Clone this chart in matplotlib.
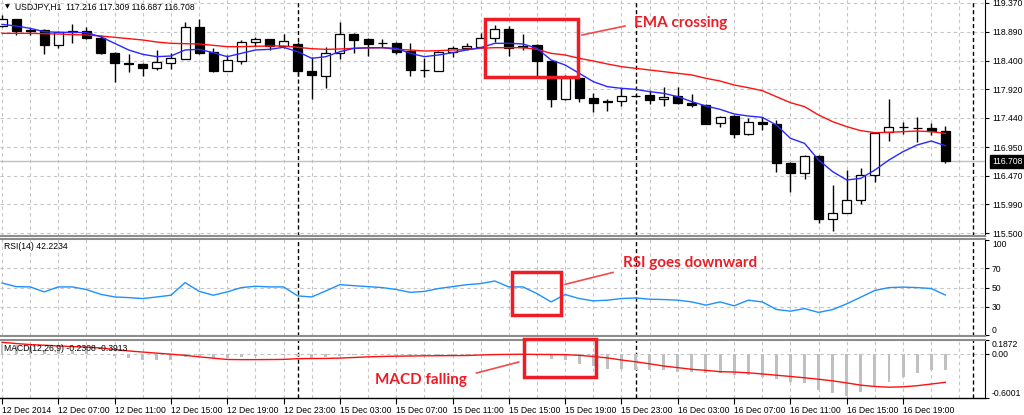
import matplotlib
matplotlib.use("Agg")
import matplotlib.pyplot as plt
from matplotlib.patches import Rectangle
import numpy as np

# USDJPY H1, 12 Dec 2014 03:00 .. 16 Dec 2014 22:00 (68 bars)
opens = [118.983, 119.095, 118.910, 118.916, 118.664, 118.885, 118.899, 118.787, 118.535, 118.367,
         118.339, 118.272, 118.367, 118.429, 118.972, 118.552, 118.227, 118.401, 118.709, 118.765,
         118.653, 118.681, 118.233, 118.149, 118.524, 118.849, 118.759, 118.692, 118.703, 118.563,
         118.250, 118.233, 118.541, 118.619, 118.636, 118.776, 118.933, 118.625, 118.664, 118.395,
         117.751, 118.104, 117.779, 117.700, 117.723, 117.810, 117.824, 117.751, 117.813, 117.684,
         117.656, 117.359, 117.477, 117.163, 117.376, 117.337, 116.687, 116.508, 116.799, 115.735,
         115.847, 116.060, 116.480, 117.197, 117.280, 117.270, 117.275, 117.216]
highs = [119.168, 119.100, 118.955, 118.930, 118.899, 119.017, 118.972, 118.832, 118.552, 118.513,
         118.356, 118.580, 118.535, 119.056, 119.095, 118.608, 118.496, 118.748, 118.804, 118.770,
         118.849, 118.720, 118.457, 118.636, 119.056, 118.860, 118.776, 118.765, 118.710, 118.703,
         118.440, 118.569, 118.653, 118.692, 118.860, 119.000, 118.983, 118.849, 118.675, 118.400,
         118.160, 118.110, 117.863, 117.757, 117.936, 117.840, 117.908, 117.953, 117.953, 117.835,
         117.673, 117.465, 117.480, 117.443, 117.449, 117.404, 116.704, 116.816, 116.810, 116.312,
         116.564, 116.592, 117.208, 117.751, 117.365, 117.460, 117.359, 117.309]
lows = [118.972, 118.832, 118.832, 118.513, 118.608, 118.703, 118.759, 118.513, 118.048, 118.205,
        118.149, 118.244, 118.261, 118.425, 118.513, 118.205, 118.222, 118.339, 118.653, 118.580,
        118.608, 118.143, 117.757, 117.947, 118.429, 118.524, 118.485, 118.636, 118.507, 118.143,
        118.132, 118.228, 118.457, 118.580, 118.630, 118.720, 118.479, 118.580, 118.149, 117.617,
        117.745, 117.712, 117.544, 117.561, 117.639, 117.800, 117.673, 117.645, 117.673, 117.628,
        117.330, 117.281, 117.107, 117.152, 117.236, 116.536, 116.200, 116.413, 115.679, 115.545,
        115.840, 115.993, 116.368, 117.051, 117.169, 117.040, 117.152, 116.687]
closes = [119.095, 118.899, 118.894, 118.664, 118.888, 118.892, 118.787, 118.524, 118.367, 118.345,
          118.272, 118.373, 118.440, 118.972, 118.535, 118.227, 118.412, 118.709, 118.765, 118.653,
          118.737, 118.227, 118.160, 118.535, 118.849, 118.748, 118.675, 118.700, 118.552, 118.244,
          118.240, 118.541, 118.608, 118.653, 118.776, 118.927, 118.619, 118.645, 118.395, 117.751,
          118.104, 117.779, 117.684, 117.715, 117.807, 117.815, 117.740, 117.796, 117.684, 117.656,
          117.337, 117.460, 117.163, 117.376, 117.331, 116.676, 116.508, 116.799, 115.735, 115.847,
          116.060, 116.480, 117.191, 117.281, 117.290, 117.275, 117.225, 116.708]

ema_fast = [119.011, 118.983, 118.944, 118.888, 118.877, 118.877, 118.871, 118.804, 118.692, 118.580,
            118.507, 118.468, 118.479, 118.580, 118.591, 118.535, 118.468, 118.524, 118.580, 118.591,
            118.625, 118.552, 118.440, 118.468, 118.552, 118.608, 118.619, 118.619, 118.608, 118.524,
            118.468, 118.496, 118.535, 118.580, 118.619, 118.692, 118.692, 118.681, 118.608, 118.412,
            118.328, 118.188, 118.048, 117.964, 117.936, 117.919, 117.880, 117.852, 117.796, 117.712,
            117.639, 117.583, 117.505, 117.471, 117.449, 117.320, 117.096, 117.012, 116.732, 116.536,
            116.396, 116.424, 116.564, 116.732, 116.872, 116.984, 117.051, 116.973]
ema_slow = [118.860, 118.860, 118.860, 118.854, 118.849, 118.838, 118.832, 118.815, 118.793, 118.770,
            118.748, 118.714, 118.692, 118.686, 118.681, 118.658, 118.636, 118.636, 118.642, 118.647,
            118.647, 118.625, 118.602, 118.591, 118.597, 118.608, 118.614, 118.619, 118.591, 118.580,
            118.563, 118.569, 118.580, 118.591, 118.608, 118.619, 118.619, 118.619, 118.591, 118.524,
            118.496, 118.440, 118.395, 118.345, 118.300, 118.272, 118.244, 118.216, 118.188, 118.160,
            118.104, 118.059, 117.992, 117.947, 117.897, 117.796, 117.695, 117.628, 117.488, 117.376,
            117.292, 117.225, 117.191, 117.197, 117.208, 117.219, 117.208, 117.180]

rsi = [54.8, 51.0, 50.7, 45.5, 50.7, 50.7, 47.9, 43.0, 40.2, 39.5,
       38.5, 40.2, 42.0, 55.2, 46.1, 42.0, 45.5, 50.0, 51.4, 50.7,
       50.7, 41.3, 40.2, 46.5, 53.1, 52.0, 51.0, 50.0, 48.0, 45.0,
       46.0, 49.0, 51.0, 53.0, 54.2, 56.9, 50.7, 50.7, 43.7, 35.0,
       42.7, 38.5, 36.1, 36.8, 38.5, 39.2, 37.8, 37.5, 36.8, 35.0,
       31.6, 35.0, 30.9, 36.8, 35.0, 27.1, 25.3, 28.0, 24.0, 27.0,
       33.0, 40.0, 47.0, 50.0, 50.5, 50.0, 49.0, 42.2]

macd_main = [0.13, 0.11, 0.09, 0.05, 0.04, 0.035, 0.03, 0.0, -0.04, -0.065,
             -0.085, -0.09, -0.085, -0.05, -0.035, -0.055, -0.06, -0.045, -0.03, -0.025,
             -0.02, -0.035, -0.06, -0.05, -0.03, -0.02, -0.015, -0.01, -0.015, -0.03,
             -0.035, -0.03, -0.02, -0.015, -0.01, 0.0, -0.005, -0.01, -0.03, -0.072,
             -0.094, -0.139, -0.170, -0.206, -0.215, -0.222, -0.229, -0.229, -0.247, -0.247,
             -0.260, -0.260, -0.292, -0.292, -0.314, -0.341, -0.386, -0.395, -0.494, -0.543,
             -0.580, -0.529, -0.449, -0.382, -0.314, -0.260, -0.229, -0.2308]
macd_signal = [0.153, 0.136, 0.122, 0.113, 0.103, 0.095, 0.086, 0.076, 0.055, 0.035,
               0.020, 0.005, -0.009, -0.025, -0.045, -0.063, -0.081, -0.083, -0.083, -0.082,
               -0.080, -0.070, -0.068, -0.067, -0.062, -0.054, -0.045, -0.040, -0.036, -0.034,
               -0.031, -0.030, -0.028, -0.027, -0.020, -0.014, -0.012, -0.010, -0.012, -0.013,
               -0.015, -0.025, -0.040, -0.060, -0.088, -0.112, -0.140, -0.170, -0.192, -0.215,
               -0.229, -0.247, -0.252, -0.262, -0.278, -0.295, -0.312, -0.330, -0.350, -0.372,
               -0.400, -0.430, -0.449, -0.458, -0.453, -0.438, -0.415, -0.3913]

price_ticks = [119.370, 118.890, 118.400, 117.920, 117.440, 116.950, 116.470, 115.990, 115.500]
time_labels = ["12 Dec 2014", "12 Dec 07:00", "12 Dec 11:00", "12 Dec 15:00", "12 Dec 19:00",
               "12 Dec 23:00", "15 Dec 03:00", "15 Dec 07:00", "15 Dec 11:00", "15 Dec 15:00",
               "15 Dec 19:00", "15 Dec 23:00", "16 Dec 03:00", "16 Dec 07:00", "16 Dec 11:00",
               "16 Dec 15:00", "16 Dec 19:00"]
day_starts = [21, 45, 69]   # bar index of 00:00 each day

RED = '#ee1c25'
GRID = '#c4c4c4'
W, H = 1024, 415

plt.rcParams['font.family'] = ['Liberation Sans', 'DejaVu Sans']
fig = plt.figure(figsize=(W / 100, H / 100), dpi=100)
fig.patch.set_facecolor('white')


def panel(top, bottom):
    return fig.add_axes([0, 1 - bottom / H, 985 / W, (bottom - top) / H])


ax_p = panel(0, 236)
ax_r = panel(238.5, 336)
ax_m = panel(340, 398)

n = len(closes)
bars = np.arange(n)
o = np.array(opens); c = np.array(closes)

for ax in (ax_p, ax_r, ax_m):
    ax.set_xlim(-0.142, 69.82)
    for k in range(0, 70, 2):
        ax.axvline(k, color=GRID, lw=0.8, ls=(0, (3, 3)), zorder=0)
    for d in day_starts:
        ax.axvline(d, color='black', lw=1, ls=(0, (3, 2)), zorder=1)
    ax.spines['top'].set_visible(False)
    ax.spines['left'].set_visible(False)
    ax.spines['right'].set_color('black')
    ax.spines['bottom'].set_color('#8c8c8c')
    ax.spines['bottom'].set_linewidth(1.5)
    ax.yaxis.tick_right()
    ax.tick_params(axis='y', length=3, width=0.8, pad=2, labelsize=6.2)
ax_r.spines['top'].set_visible(True)
ax_r.spines['top'].set_color('#8c8c8c')
ax_r.spines['top'].set_linewidth(1.5)
ax_m.spines['top'].set_visible(True)
ax_m.spines['top'].set_color('#8c8c8c')
ax_m.spines['top'].set_linewidth(1.5)
ax_m.spines['bottom'].set_color('black')
ax_m.spines['bottom'].set_linewidth(1)

# price panel
ax_p.set_ylim(115.455, 119.420)
for p in price_ticks:
    ax_p.axhline(p, color=GRID, lw=0.8, ls=(0, (3, 3)), zorder=0)
ax_p.axhline(closes[-1], color='#c0c0c0', lw=1, zorder=1)
ax_p.vlines(bars, lows, highs, color='black', lw=1, zorder=2)
up = c >= o
ax_p.bar(bars, np.abs(c - o), bottom=np.minimum(o, c), width=0.64,
         color=np.where(up, 'white', 'black'), edgecolor='black', linewidth=0.9, zorder=3)
ax_p.plot(bars, ema_slow, color='#ff1010', lw=1, zorder=4)
ax_p.plot(bars, ema_fast, color='#2828ff', lw=1, zorder=4)
ax_p.set_xticks([])
ax_p.set_yticks(price_ticks)
ax_p.set_yticklabels([f'{p:.3f}' for p in price_ticks])
ax_p.annotate(f'{closes[-1]:.3f}', xy=(1.0, closes[-1]), xycoords=('axes fraction', 'data'),
              xytext=(5, 0), textcoords='offset points', va='center', ha='left',
              fontsize=6.2, color='white',
              bbox=dict(boxstyle='square,pad=0.2', fc='black', ec='black'))

# RSI panel
ax_r.set_ylim(-0.7, 101.4)
for lv in (70, 50, 30):
    ax_r.axhline(lv, color=GRID, lw=0.8, ls=(0, (3, 3)), zorder=0)
ax_r.plot(bars, rsi, color='#1e90ff', lw=1, zorder=3)
ax_r.set_xticks([])
ax_r.set_yticks([100, 70, 50, 30, 0])
ax_r.set_yticklabels(['100', '70', '50', '30', '0'])
lbl = ax_r.get_yticklabels()
lbl[0].set_va('top')
lbl[-1].set_va('bottom')

# MACD panel
ax_m.set_ylim(-0.605, 0.184)
ax_m.axhline(0, color=GRID, lw=0.8, ls=(0, (3, 3)), zorder=0)
ax_m.bar(bars, macd_main, width=0.21, color='#c0c0c0', zorder=2)
ax_m.plot(bars, macd_signal, color='#ff1010', lw=1, zorder=3)
ax_m.set_yticks([0.184, 0.0, -0.605])
ax_m.set_yticklabels(['0.1872', '0.00', '-0.6001'])
lbl = ax_m.get_yticklabels()
lbl[0].set_va('top')
lbl[-1].set_va('bottom')
ax_m.set_xticks(np.arange(0, 68, 4))
ax_m.set_xticklabels(time_labels, ha='left')
ax_m.tick_params(axis='x', length=4, width=0.8, pad=2, labelsize=6.2)

# headers
fig.text(5 / W, 1 - 7 / H, '\u25bc', fontsize=4.5, va='center', family=['DejaVu Sans'])
fig.text(15 / W, 1 - 7 / H, 'USDJPY,H1  117.216 117.309 116.687 116.708', fontsize=6.2, va='center')
fig.text(4 / W, 1 - 246 / H, 'RSI(14) 42.2234', fontsize=6.2, va='center')
fig.text(4 / W, 1 - 348 / H, 'MACD(12,26,9) -0.2308 -0.3913', fontsize=6.2, va='center')

# annotations
afont = dict(color=RED, fontsize=11, fontweight='bold', family=['Lato', 'DejaVu Sans'], va='center')
ax_p.add_patch(Rectangle((34.3, 118.13), 6.6, 0.97, fill=False, ec=RED, lw=2.5, zorder=6))
ax_p.plot([41.2, 44.25], [118.832, 118.983], color='#f04a4a', lw=1.2, zorder=6)
ax_p.text(44.9, 119.034, 'EMA crossing', zorder=6, **afont)

ax_r.add_patch(Rectangle((36.2, 21.1), 3.5, 44.8, fill=False, ec=RED, lw=2.5, zorder=6))
ax_r.plot([40.0, 43.4], [53.4, 65.9], color='#f04a4a', lw=1.2, zorder=6)
ax_r.text(44.1, 75.3, 'RSI goes downward', zorder=6, **afont)

ax_m.add_patch(Rectangle((37.1, -0.32), 5.1, 0.517, fill=False, ec=RED, lw=2.5, zorder=6, clip_on=False))
ax_m.plot([33.7, 36.7], [-0.265, -0.116], color='#f04a4a', lw=1.2, zorder=6)
ax_m.text(26.5, -0.36, 'MACD falling', zorder=6, **afont)

fig.savefig('out.png', dpi=100, facecolor='white')
